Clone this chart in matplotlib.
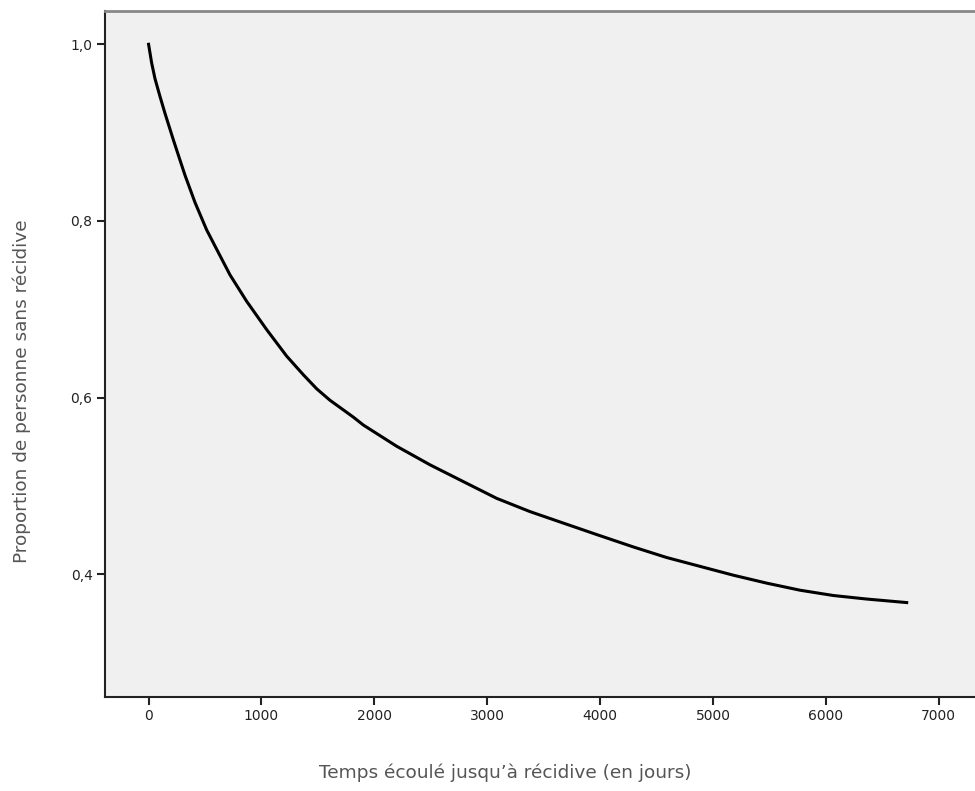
import numpy as np
import matplotlib.pyplot as plt

# survival curve
days = [0, 27, 57, 101, 145, 219, 278, 322, 411, 514, 603, 721, 869, 1046,
        1223, 1370, 1489, 1607, 1813, 1902, 2197, 2492, 2787, 3083, 3378,
        3673, 3969, 4293, 4589, 4884, 5179, 5475, 5770, 6065, 6360, 6715]
prop = [1.0, 0.979, 0.961, 0.941, 0.922, 0.892, 0.869, 0.852, 0.821, 0.790,
        0.768, 0.739, 0.709, 0.677, 0.647, 0.626, 0.610, 0.597, 0.578, 0.569,
        0.545, 0.524, 0.505, 0.486, 0.471, 0.458, 0.445, 0.431, 0.419, 0.409,
        0.399, 0.390, 0.382, 0.376, 0.372, 0.368]

xticks = [0, 1000, 2000, 3000, 4000, 5000, 6000, 7000]
yticks = [0.4, 0.6, 0.8, 1.0]
ylabels = ["0,4", "0,6", "0,8", "1,0"]

fig = plt.figure(figsize=(9.75, 7.91), dpi=100)
ax = fig.add_axes([105 / 975, 1 - 697 / 791, 1 - 105 / 975, (697 - 11) / 791])
ax.set_facecolor("#f0f0f0")

ax.plot(days, prop, color="black", lw=2.2, solid_joinstyle="round")

ax.set_xlim(-386, 7320)
ax.set_ylim(0.2611, 1.0377)
ax.set_xticks(xticks)
ax.set_xticklabels([str(t) for t in xticks])
ax.set_yticks(yticks)
ax.set_yticklabels(ylabels)

for s in ["left", "bottom"]:
    ax.spines[s].set_color("#222222")
    ax.spines[s].set_linewidth(1.5)
ax.spines["top"].set_color("#888888")
ax.spines["top"].set_linewidth(2)
ax.spines["right"].set_visible(False)

ax.tick_params(direction="out", length=6, width=1.5, color="#222222",
               labelcolor="#222222", labelsize=10, pad=3)

ax.set_xlabel("Temps écoulé jusqu’à récidive (en jours)", fontsize=13.3,
              color="#555555", va="center")
ax.xaxis.set_label_coords(0.46, -0.111)
ax.set_ylabel("Proportion de personne sans récidive", fontsize=13.3,
              color="#555555", va="center")
ax.yaxis.set_label_coords(-0.0954, 0.446)

fig.savefig("out.png", dpi=100)
